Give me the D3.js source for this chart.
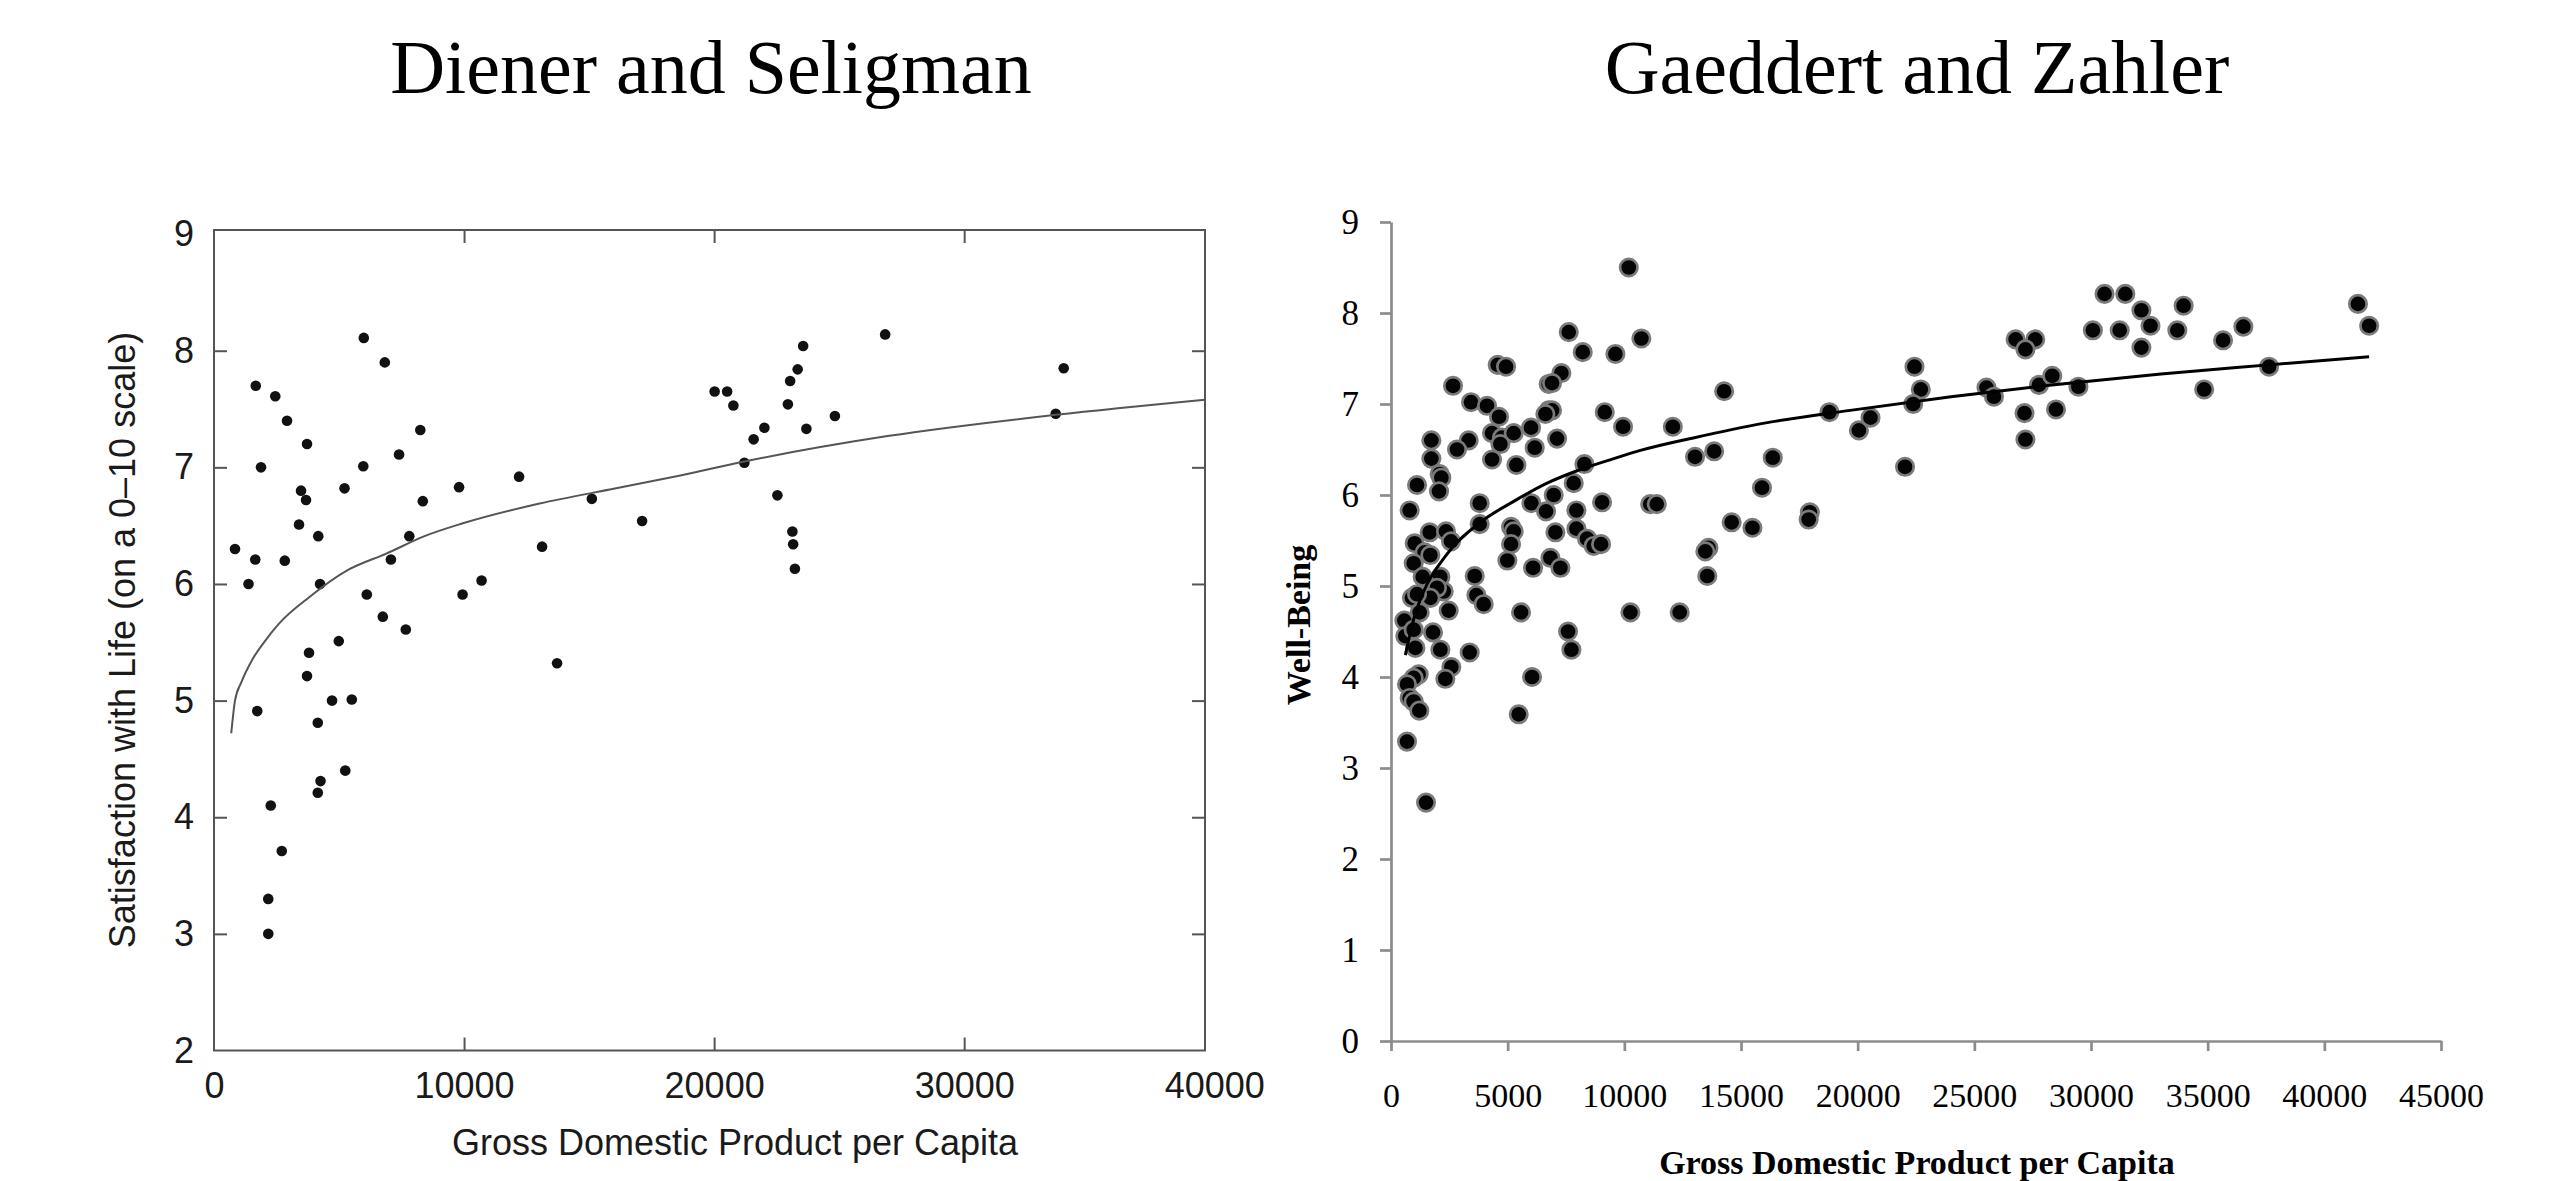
<!DOCTYPE html>
<html>
<head>
<meta charset="utf-8">
<script src="https://cdn.jsdelivr.net/npm/d3@7"></script>
<style>
    body { margin: 0; background: #fff; }
</style>
</head>
<body>
<script>
let svgWidth = 2554,
    svgHeight = 1181;

let titles = ["Diener and Seligman", "Gaeddert and Zahler"];

// Diener and Seligman: [GDP per capita, satisfaction with life]
let dienerPoints = [
    [840, 6.30], [1380, 6.00], [1670, 7.70], [1650, 6.21], [1880, 7.00], [2450, 7.61], [2920, 7.40],
    [2830, 6.20], [3720, 7.20], [3480, 6.80], [3680, 6.72], [3400, 6.51], [4170, 6.41], [4240, 6.00],
    [5220, 6.82], [5990, 8.11], [6830, 7.90], [5970, 7.01], [7400, 7.11], [8250, 7.32], [8350, 6.71],
    [7810, 6.41], [7075, 6.21], [6110, 5.91], [6750, 5.72], [7670, 5.61], [4990, 5.51], [3800, 5.41],
    [3720, 5.21], [9800, 6.83], [12200, 6.92], [9940, 5.91], [10700, 6.03], [13120, 6.32], [13720, 5.32],
    [15110, 6.73], [17120, 6.54],
    [1730, 4.91], [2270, 4.10], [2710, 3.71], [2170, 3.30], [2170, 3.00], [4150, 4.81], [4720, 5.00],
    [5510, 5.01], [4260, 4.31], [4150, 4.21], [5250, 4.40],
    [20020, 7.65], [20520, 7.65], [20770, 7.53], [21210, 7.04], [21580, 7.24], [22010, 7.34], [22530, 6.76],
    [22950, 7.54], [23040, 7.74], [23340, 7.84], [23560, 8.04], [23690, 7.33], [23130, 6.45], [23160, 6.34],
    [23230, 6.13], [24830, 7.44], [26840, 8.14], [33660, 7.46], [33980, 7.85]
];
// fitted curve
let dienerCurve = [
    [690, 4.72], [840, 5.00], [1100, 5.16], [1530, 5.35], [2000, 5.50], [2600, 5.66], [3830, 5.89],
    [5360, 6.12], [6890, 6.26], [8420, 6.41], [9950, 6.52], [13020, 6.69], [16080, 6.82], [18650, 6.93],
    [21210, 7.05], [27000, 7.27], [33660, 7.45], [39630, 7.58]
];
let dienerXTicks = [0, 10000, 20000, 30000, 40000];
let dienerXInner = [10000, 20000, 30000];
let dienerYTicks = [2, 3, 4, 5, 6, 7, 8, 9];
let dienerYInner = [3, 4, 5, 6, 7, 8];
let dienerXDomain = [0, 39630];
let dienerYDomain = [2, 9.035];

// Gaeddert and Zahler: [GDP per capita, well-being]
let gaeddertPoints = [
    [7617, 7.79], [8217, 7.57], [9617, 7.55], [10730, 7.72],
    [4573, 7.43], [4930, 7.41], [2658, 7.20], [7302, 7.34], [6759, 7.22], [6902, 7.23],
    [3430, 7.02], [4115, 6.98], [4630, 6.86], [6759, 6.93], [6902, 6.93], [6616, 6.89], [9160, 6.91], [9946, 6.75],
    [1729, 6.60], [3330, 6.60], [2829, 6.50], [4330, 6.68], [4759, 6.63], [5259, 6.68], [6002, 6.74], [7117, 6.62],
    [6159, 6.52], [4330, 6.39], [4687, 6.56], [5373, 6.33], [1729, 6.40], [2086, 6.23], [2158, 6.19], [2058, 6.04],
    [1115, 6.11], [800, 5.83], [3801, 5.91],
    [8288, 6.34], [7831, 6.13], [6973, 6.00], [6016, 5.91], [6645, 5.82], [7945, 5.83], [9046, 5.92],
    [3801, 5.68], [1658, 5.59], [2358, 5.60], [2572, 5.49], [1015, 5.47], [1443, 5.37], [1686, 5.34], [972, 5.25],
    [1358, 5.10], [2115, 5.10], [2258, 4.94], [1972, 4.98], [1686, 4.87], [900, 4.87], [1115, 4.91], [1229, 4.71],
    [572, 4.62], [614, 4.45], [972, 4.52], [1043, 4.32], [1801, 4.49], [2472, 4.73], [2115, 4.30], [3372, 4.27],
    [3587, 5.11], [3658, 4.90], [3973, 4.80],
    [5145, 5.65], [5259, 5.60], [5145, 5.46], [4987, 5.28], [6088, 5.20], [6831, 5.31], [7260, 5.20],
    [7045, 5.59], [7945, 5.63], [8402, 5.52], [8688, 5.44], [9003, 5.46],
    [5573, 4.71], [7588, 4.50], [7731, 4.30], [10260, 4.71], [6045, 4.00], [5473, 3.59],
    [2586, 4.11], [2329, 3.98], [1186, 4.03], [972, 3.99], [686, 3.92], [800, 3.77], [972, 3.73], [1215, 3.63],
    [686, 3.29], [1501, 2.62],
    [10190, 8.50], [14277, 7.14], [12078, 6.75], [18789, 6.91], [13030, 6.42], [13850, 6.48], [16361, 6.41],
    [11110, 5.90], [11390, 5.90], [15900, 6.08], [17950, 5.81], [17900, 5.73], [14600, 5.70], [15490, 5.64],
    [13604, 5.42], [13472, 5.38], [13555, 5.11], [12373, 4.71], [20053, 6.71], [20550, 6.85],
    [22030, 6.31], [22435, 7.41], [22705, 7.16], [22380, 7.00], [25520, 7.18], [25840, 7.08], [26770, 7.71],
    [27610, 7.71], [27190, 7.60], [27150, 6.90], [27190, 6.61], [27770, 7.21], [28340, 7.31], [28500, 6.94],
    [29460, 7.19], [30080, 7.81], [30580, 8.21], [31230, 7.81], [31470, 8.21], [32160, 8.03], [32550, 7.86],
    [32160, 7.62], [33700, 7.81], [33970, 8.08], [34850, 7.16], [35660, 7.70], [36530, 7.85], [37630, 7.41],
    [41440, 8.10], [41920, 7.86]
];
let gaeddertCurve = [
    [614, 4.24], [1000, 4.66], [1400, 4.94], [2400, 5.35], [3830, 5.70], [5260, 5.93], [6690, 6.13],
    [8120, 6.28], [9550, 6.40], [10690, 6.49], [13000, 6.63], [16000, 6.79], [19680, 6.93], [24000, 7.08],
    [28000, 7.20], [33000, 7.33], [37630, 7.43], [41920, 7.52]
];
let gaeddertXTicks = [0, 5000, 10000, 15000, 20000, 25000, 30000, 35000, 40000, 45000];
let gaeddertYTicks = [0, 1, 2, 3, 4, 5, 6, 7, 8, 9];

let dienerBox = {left: 214, right: 1205, top: 230, bottom: 1050.5},
    gaeddertBox = {left: 1391, right: 2441, top: 222, bottom: 1041};

let svgContainer;

function init() {
    svgContainer = d3.select("body").append("svg")
        .attr("width", svgWidth)
        .attr("height", svgHeight)
        .style("display", "block");

    drawTitle(titles[0], 711);
    drawTitle(titles[1], 1917);
    drawDiener();
    drawGaeddert();
}

function drawTitle(text, cx) {
    svgContainer.append("text")
        .attr("x", cx)
        .attr("y", 93)
        .attr("text-anchor", "middle")
        .style("font-family", "'Liberation Serif', 'Times New Roman', serif")
        .style("font-size", "76px")
        .style("fill", "#000")
        .text(text);
}

function styleAxisText(axisG, family, size, color, weight) {
    axisG.attr("font-family", null).attr("font-size", null);
    axisG.selectAll("text")
        .style("font-family", family)
        .style("font-size", size + "px")
        .style("font-weight", weight || "normal")
        .style("fill", color);
}

function drawInnerTicks(g, axis, values, transform) {
    g.append("g")
        .attr("transform", transform)
        .call(axis.tickValues(values).tickSize(-13).tickFormat(""))
        .call(a => a.select(".domain").remove())
        .selectAll("line")
        .attr("stroke", "#555")
        .attr("stroke-width", 2);
}

function drawDiener() {
    let sans = "'Liberation Sans', Arial, Helvetica, sans-serif";
    let x = d3.scaleLinear().domain(dienerXDomain).range([dienerBox.left, dienerBox.right]);
    let y = d3.scaleLinear().domain(dienerYDomain).range([dienerBox.bottom, dienerBox.top]);
    let g = svgContainer.append("g");

    g.append("rect")
        .attr("x", dienerBox.left)
        .attr("y", dienerBox.top)
        .attr("width", dienerBox.right - dienerBox.left)
        .attr("height", dienerBox.bottom - dienerBox.top)
        .attr("fill", "none")
        .attr("stroke", "#555")
        .attr("stroke-width", 2);

    drawInnerTicks(g, d3.axisBottom(x), dienerXInner, "translate(0," + dienerBox.bottom + ")");
    drawInnerTicks(g, d3.axisTop(x), dienerXInner, "translate(0," + dienerBox.top + ")");
    drawInnerTicks(g, d3.axisLeft(y), dienerYInner, "translate(" + dienerBox.left + ",0)");
    drawInnerTicks(g, d3.axisRight(y), dienerYInner, "translate(" + dienerBox.right + ",0)");

    let xAxisG = g.append("g")
        .attr("transform", "translate(0," + dienerBox.bottom + ")")
        .call(d3.axisBottom(x).tickValues(dienerXTicks).tickSize(0).tickPadding(22).tickFormat(d3.format("d")))
        .call(a => a.select(".domain").remove());
    styleAxisText(xAxisG, sans, 36, "#1a1a1a");

    let yAxisG = g.append("g")
        .attr("transform", "translate(" + dienerBox.left + ",0)")
        .call(d3.axisLeft(y).tickValues(dienerYTicks).tickSize(0).tickPadding(20).tickFormat(d3.format("d")))
        .call(a => a.select(".domain").remove());
    styleAxisText(yAxisG, sans, 36, "#1a1a1a");

    g.append("text")
        .attr("x", 735)
        .attr("y", 1155)
        .attr("text-anchor", "middle")
        .style("font-family", sans)
        .style("font-size", "36px")
        .style("fill", "#1a1a1a")
        .text("Gross Domestic Product per Capita");

    g.append("text")
        .attr("transform", "translate(135,640) rotate(-90)")
        .attr("text-anchor", "middle")
        .style("font-family", sans)
        .style("font-size", "36px")
        .style("fill", "#1a1a1a")
        .text("Satisfaction with Life (on a 0\u201310 scale)");

    g.selectAll("circle.dot")
        .data(dienerPoints)
        .join("circle")
        .attr("class", "dot")
        .attr("cx", d => x(d[0]))
        .attr("cy", d => y(d[1]))
        .attr("r", 5.3)
        .style("fill", "#111");

    let line = d3.line()
        .x(d => x(d[0]))
        .y(d => y(d[1]))
        .curve(d3.curveMonotoneX);

    g.append("path")
        .datum(dienerCurve)
        .attr("d", line)
        .attr("fill", "none")
        .attr("stroke", "#555")
        .attr("stroke-width", 2);
}

function drawGaeddert() {
    let serif = "'Liberation Serif', 'Times New Roman', serif";
    let axisColor = "#8c8c8c";
    let x = d3.scaleLinear().domain([0, 45000]).range([gaeddertBox.left, gaeddertBox.right]);
    let y = d3.scaleLinear().domain([0, 9]).range([gaeddertBox.bottom, gaeddertBox.top]);
    let g = svgContainer.append("g");

    let yAxisG = g.append("g")
        .attr("transform", "translate(" + gaeddertBox.left + ",0)")
        .call(d3.axisLeft(y).tickValues(gaeddertYTicks).tickSize(11).tickSizeOuter(0).tickPadding(21));
    let xAxisG = g.append("g")
        .attr("transform", "translate(0," + gaeddertBox.bottom + ")")
        .call(d3.axisBottom(x).tickValues(gaeddertXTicks).tickSize(10).tickSizeOuter(0).tickPadding(32)
            .tickFormat(d3.format("d")));

    [xAxisG, yAxisG].forEach(a => a.selectAll("line, path").attr("stroke", axisColor).attr("stroke-width", 2.7));
    styleAxisText(xAxisG, serif, 34, "#000");
    styleAxisText(yAxisG, serif, 35, "#000");

    g.append("text")
        .attr("x", 1917)
        .attr("y", 1174)
        .attr("text-anchor", "middle")
        .style("font-family", serif)
        .style("font-weight", "bold")
        .style("font-size", "34px")
        .text("Gross Domestic Product per Capita");

    g.append("text")
        .attr("transform", "translate(1310,625) rotate(-90)")
        .attr("text-anchor", "middle")
        .style("font-family", serif)
        .style("font-weight", "bold")
        .style("font-size", "34px")
        .text("Well-Being");

    g.selectAll("circle.marker")
        .data(gaeddertPoints)
        .join("circle")
        .attr("class", "marker")
        .attr("cx", d => x(d[0]))
        .attr("cy", d => y(d[1]))
        .attr("r", 8.7)
        .style("fill", "#050505")
        .style("stroke", "#7a7a7a")
        .style("stroke-width", 2.7);

    let line = d3.line()
        .x(d => x(d[0]))
        .y(d => y(d[1]))
        .curve(d3.curveMonotoneX);

    g.append("path")
        .datum(gaeddertCurve)
        .attr("d", line)
        .attr("fill", "none")
        .attr("stroke", "#000")
        .attr("stroke-width", 3);
}

init();
</script>
</body>
</html>
